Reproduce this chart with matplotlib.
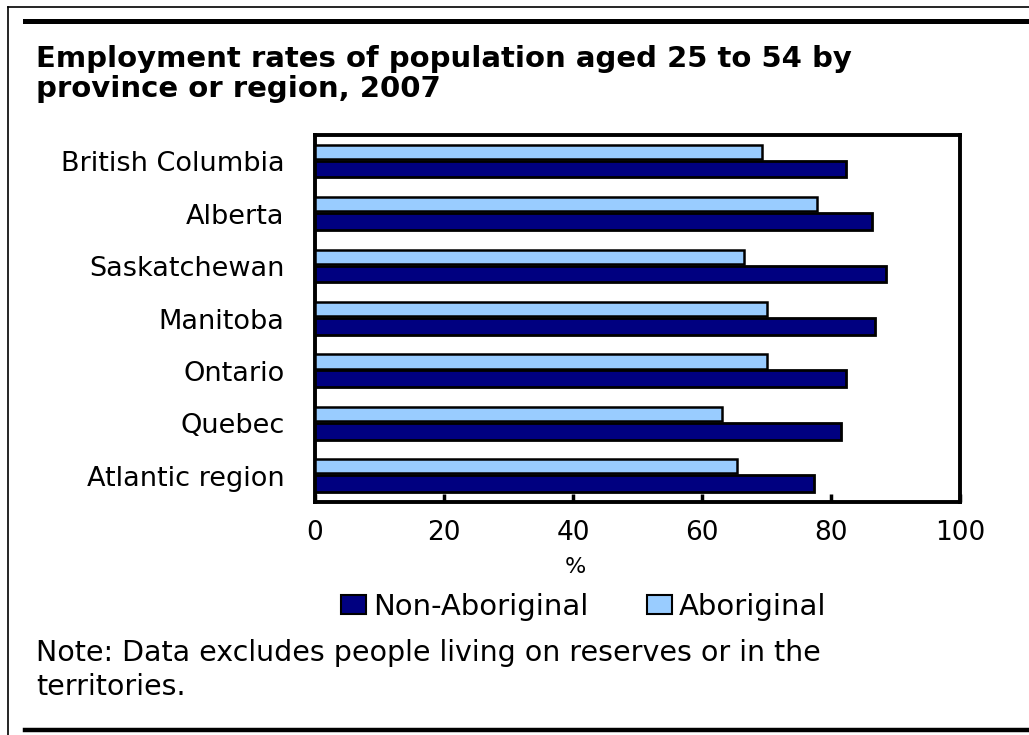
import matplotlib
matplotlib.use("Agg")
import matplotlib.pyplot as plt
from matplotlib.lines import Line2D
from matplotlib.patches import Patch
import numpy as np

categories = ["British Columbia", "Alberta", "Saskatchewan", "Manitoba",
              "Ontario", "Quebec", "Atlantic region"]
aboriginal = [69.3, 77.9, 66.5, 70.0, 70.0, 63.1, 65.5]
non_aboriginal = [82.3, 86.3, 88.5, 86.8, 82.3, 81.5, 77.3]
xticks = [0, 20, 40, 60, 80, 100]
title = "Employment rates of population aged 25 to 54 by\nprovince or region, 2007"
note = "Note: Data excludes people living on reserves or in the\nterritories."

NAVY = "#000080"
LIGHT = "#99CCFF"

plt.rcParams['font.family'] = ['DejaVu Sans']
W, H = 1029, 735
fig = plt.figure(figsize=(W / 100, H / 100), dpi=100)
fig.patch.set_facecolor("white")

def fx(px):
    return px / W

def fy(py):
    return 1 - py / H

ax = fig.add_axes([fx(315), fy(502), fx(960) - fx(315), fy(135) - fy(502)])
y = np.arange(len(categories))
ax.barh(y - 0.18, aboriginal, height=0.27, color=LIGHT, edgecolor="black",
        linewidth=1.8, label="Aboriginal", zorder=3)
ax.barh(y + 0.15, non_aboriginal, height=0.32, color=NAVY, edgecolor="black",
        linewidth=2.0, label="Non-Aboriginal", zorder=3)
ax.set_ylim(len(categories) - 0.5, -0.5)
ax.set_xlim(0, 100)
ax.set_yticks(y)
ax.set_yticklabels(categories, fontsize=19.5)
ax.set_xticks(xticks)
ax.set_xticklabels([str(t) for t in xticks], fontsize=19)
ax.tick_params(axis="y", length=0, pad=22)
ax.tick_params(axis="x", direction="in", length=6, width=2.5, pad=13)
for s in ax.spines.values():
    s.set_linewidth(2.8)
    s.set_color("black")

fig.text(fx(575), fy(567), "%", fontsize=16, ha="center", va="center")

# legend
handles = [Patch(facecolor=NAVY, edgecolor="black", linewidth=1.5, label="Non-Aboriginal"),
           Patch(facecolor=LIGHT, edgecolor="black", linewidth=1.5, label="Aboriginal")]
fig.legend(handles=handles, loc="center", bbox_to_anchor=(fx(584), fy(607)), ncol=2,
           frameon=False, fontsize=21, handlelength=0.85, handleheight=0.6,
           handletextpad=0.25, columnspacing=2.0)

fig.text(fx(36), fy(74), title, fontsize=21, fontweight="bold", ha="left",
         va="center", linespacing=1.1)
fig.text(fx(36), fy(670), note, fontsize=20.5, ha="left", va="center", linespacing=1.3)

# frame lines
fig.add_artist(Line2D([fx(8), 1], [fy(7), fy(7)], color="black", linewidth=1.2))
fig.add_artist(Line2D([fx(8), fx(8)], [fy(7), 0], color="black", linewidth=1.2))
fig.add_artist(Line2D([fx(25), 1], [fy(20.5), fy(20.5)], color="black", linewidth=3.6))
fig.add_artist(Line2D([fx(25), 1], [fy(730), fy(730)], color="black", linewidth=3.2))

fig.savefig("out.png", dpi=100, facecolor="white")
